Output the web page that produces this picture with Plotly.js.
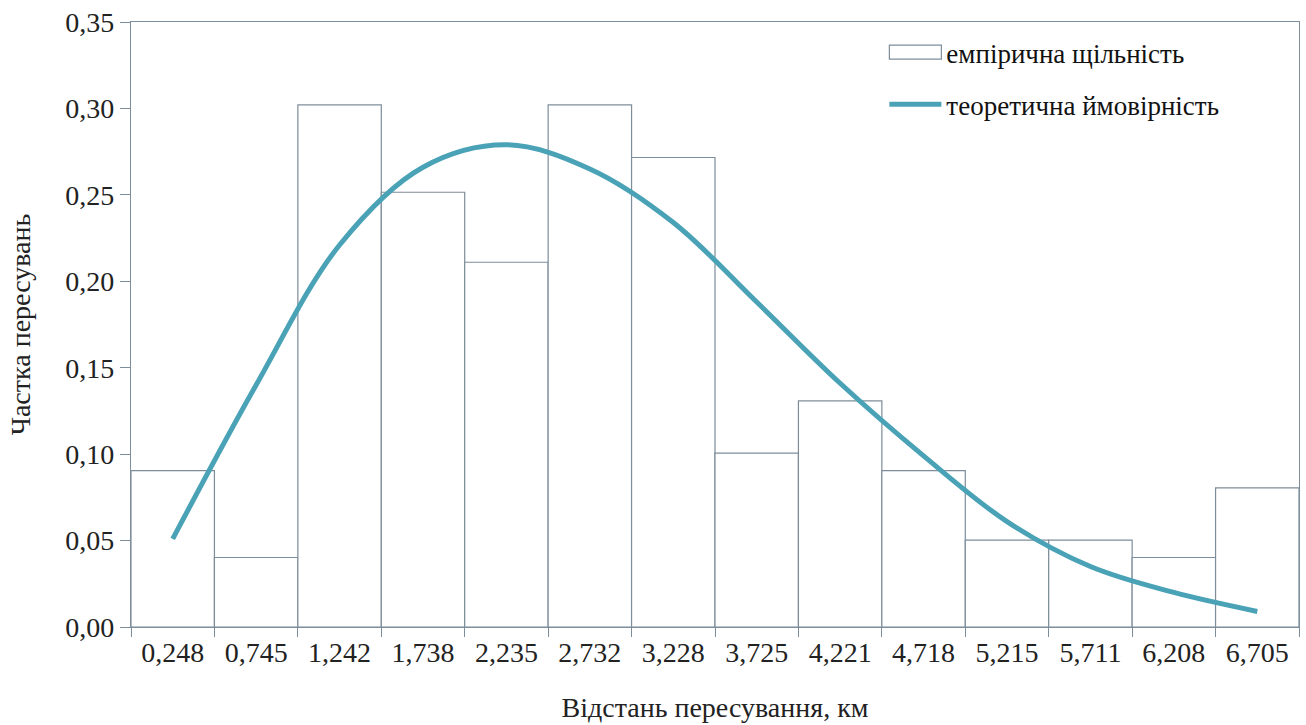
<!DOCTYPE html>
<html>
<head>
<meta charset="utf-8">
<script src="https://cdn.plot.ly/plotly-3.0.1.min.js"></script>
<style>
  html, body { margin: 0; padding: 0; background: #ffffff; }
  #chart { width: 1306px; height: 725px; }
</style>
</head>
<body>
<div id="chart"></div>
<script>
// Category (bin centre) labels, km
const categories = ['0,248', '0,745', '1,242', '1,738', '2,235', '2,732', '3,228',
                    '3,725', '4,221', '4,718', '5,215', '5,711', '6,208', '6,705'];
// Empirical density (histogram heights)
const empiricalDensity = [0.0905, 0.0402, 0.302, 0.2515, 0.211, 0.302, 0.2716,
                          0.1006, 0.1308, 0.0905, 0.0503, 0.0503, 0.0402, 0.0805];
// Theoretical probability at bin centres
const theoreticalProb = [0.051, 0.140, 0.221, 0.266, 0.279, 0.265, 0.234,
                         0.188, 0.141, 0.099, 0.061, 0.035, 0.020, 0.009];
// Y tick values
const yTicks = [0, 0.05, 0.10, 0.15, 0.20, 0.25, 0.30, 0.35];

const seriesNames = ['емпірична щільність', 'теоретична ймовірність'];
const axisTitles = { x: 'Відстань пересування, км', y: 'Частка пересувань' };

const FONT = '"Liberation Serif", "DejaVu Serif", serif';
const AXIS_COLOR = '#7d8d9a';
const CURVE_COLOR = '#4aa2b6';
const LEGEND_SWATCH = 52;

const traces = [
  {
    type: 'bar',
    name: seriesNames[0],
    x: categories,
    y: empiricalDensity,
    marker: { color: '#ffffff', line: { color: AXIS_COLOR, width: 1.2 } },
    legendgroup: 'a',
    hoverinfo: 'x+y'
  },
  {
    type: 'scatter',
    mode: 'lines',
    name: seriesNames[1],
    x: categories,
    y: theoreticalProb,
    line: { color: CURVE_COLOR, width: 5, shape: 'spline', smoothing: 1 },
    legendgroup: 'b',
    hoverinfo: 'x+y'
  }
];

const layout = {
  width: 1306,
  height: 725,
  margin: { l: 131, r: 7, t: 22, b: 98 },
  paper_bgcolor: '#ffffff',
  plot_bgcolor: '#ffffff',
  separators: ', ',
  bargap: 0,
  showlegend: true,
  font: { family: FONT, size: 27, color: '#222222' },
  legend: {
    x: 0.645, y: 0.99, xanchor: 'left', yanchor: 'top',
    bgcolor: 'rgba(0,0,0,0)',
    font: { family: FONT, size: 27, color: '#111111' },
    traceorder: 'grouped',
    tracegroupgap: 14,
    itemwidth: LEGEND_SWATCH
  },
  xaxis: {
    type: 'category',
    range: [-0.5, 13.5],
    tickson: 'boundaries',
    ticks: 'outside',
    ticklen: 9,
    tickcolor: AXIS_COLOR,
    showline: true,
    linecolor: AXIS_COLOR,
    linewidth: 1.2,
    mirror: true,
    showgrid: false,
    zeroline: false,
    tickfont: { family: FONT, size: 28, color: '#222222' },
    title: { text: axisTitles.x, font: { family: FONT, size: 28, color: '#222222' }, standoff: 30 }
  },
  yaxis: {
    range: [0, 0.35],
    tickvals: yTicks,
    tickformat: '.2f',
    ticks: 'outside',
    ticklen: 10,
    tickcolor: AXIS_COLOR,
    showline: true,
    linecolor: AXIS_COLOR,
    linewidth: 1.2,
    mirror: true,
    showgrid: false,
    zeroline: false,
    tickfont: { family: FONT, size: 28, color: '#222222' },
    title: { text: axisTitles.y, font: { family: FONT, size: 28, color: '#222222' }, standoff: 26 }
  }
};

function widenLegendSwatch() {
  // widen the bar legend swatch (a small square by default) into a rectangle like the original
  const h = LEGEND_SWATCH / 2;
  const paths = document.querySelectorAll('#chart g.legend g.legendpoints path');
  paths.forEach(function (p) {
    const d = p.getAttribute('d') || '';
    if (/^M6,6H-6V-6H6Z$/.test(d.replace(/\s/g, '')) || p.classList.contains('legendbar')) {
      p.setAttribute('d', 'M' + h + ',7H-' + h + 'V-7H' + h + 'Z');
    }
  });
}

Plotly.newPlot('chart', traces, layout, { displayModeBar: false, staticPlot: true }).then(function (gd) {
  widenLegendSwatch();
  gd.on('plotly_afterplot', widenLegendSwatch);
});
widenLegendSwatch();
</script>
</body>
</html>
